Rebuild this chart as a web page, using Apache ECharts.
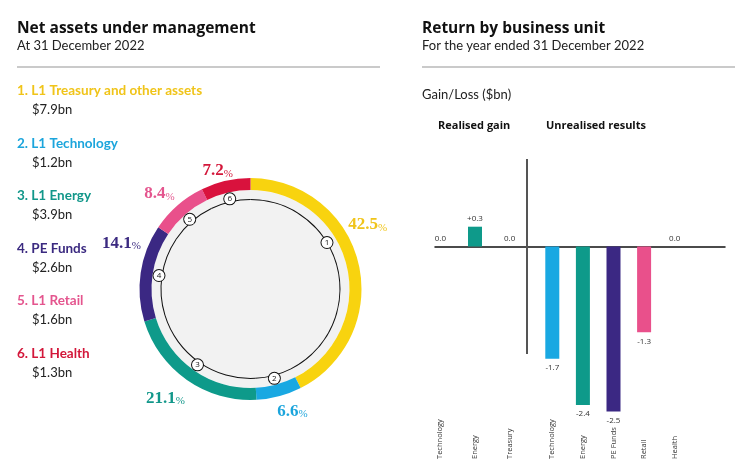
<!DOCTYPE html>
<html><head><meta charset="utf-8">
<script src="https://cdn.jsdelivr.net/npm/echarts@6/dist/echarts.min.js"></script>
<style>html,body{margin:0;padding:0;background:#fff}#c{width:752px;height:473px}</style>
</head><body><div id="c"></div>
<script>
// ---- data ----
const units = ['L1 Treasury and other assets','L1 Technology','L1 Energy','PE Funds','L1 Retail','L1 Health'];
const netAssetsBn = [7.9, 1.2, 3.9, 2.6, 1.6, 1.3];
const sharePct = [42.5, 6.6, 21.1, 14.1, 8.4, 7.2];
const realisedCats = ['Technology','Energy','Treasury'];
const realisedVals = [0.0, 0.3, 0.0];
const unrealisedCats = ['Technology','Energy','PE Funds','Retail','Health'];
const unrealisedVals = [-1.7, -2.4, -2.5, -1.3, 0.0];

// ---- styles ----
const ringColors = ['#f8d30f','#19a8e2','#0e9a8a','#3b2883','#e9508b','#d9123d'];
const textColors = ['#f0c419','#1ca5dc','#12978a','#3b2a80','#e4558e','#d3173a'];
const realisedColors = ['#27378a','#0e9a8a','#f8d30f'];
const unrealisedColors = ['#19a8e2','#0e9a8a','#3b2883','#e9508b','#d9123d'];
const pctOffsets = [[-22,-37],[-5,2],[5,7],[12,-29],[5,-4],[10,0]];
const markerOffsets = [[-13.5,-25],[0,0],[0,0],[0,0],[0,0],[0,0]];
const C = [250.5, 289];

const fmt = v => (v > 0 ? '+' : '') + v.toFixed(1);
const barData = (vals, cols) => vals.map((v, i) => ({
  value: v, itemStyle: { color: cols[i] },
  label: { position: v < 0 ? 'bottom' : 'top', distance: v < 0 ? 5 : 4 }
}));

const chart = echarts.init(document.getElementById('c'), null, { renderer: 'canvas' });
const axisLbl = { rotate: 90, align: 'left', verticalAlign: 'middle', margin: 14.5, fontSize: 7.5, color: '#333', fontFamily: 'Open Sans', interval: 0 };
const option = {
  animation: false,
  backgroundColor: '#fff',
  title: [
    { text: 'Net assets under management', subtext: 'At 31 December 2022', left: 17, top: 21, padding: 0, itemGap: 2,
      textStyle: { fontFamily: 'Open Sans', fontWeight: 'bold', fontSize: 15.5, color: '#111' },
      subtextStyle: { fontFamily: 'Lato', fontSize: 13, color: '#222' } },
    { text: 'Return by business unit', subtext: 'For the year ended 31 December 2022', left: 422, top: 21, padding: 0, itemGap: 2,
      textStyle: { fontFamily: 'Open Sans', fontWeight: 'bold', fontSize: 15.5, color: '#111' },
      subtextStyle: { fontFamily: 'Lato', fontSize: 13, color: '#222' } },
    { text: 'Gain/Loss ($bn)', left: 422, top: 88, padding: 0,
      textStyle: { fontFamily: 'Lato', fontWeight: 'normal', fontSize: 13, color: '#222' } },
    { text: 'Realised gain', left: 438, top: 120, padding: 0,
      textStyle: { fontFamily: 'Open Sans', fontWeight: 'bold', fontSize: 11, color: '#111' } },
    { text: 'Unrealised results', left: 546, top: 120, padding: 0,
      textStyle: { fontFamily: 'Open Sans', fontWeight: 'bold', fontSize: 11, color: '#111' } }
  ],
  legend: {
    orient: 'vertical', left: 12, top: 84, padding: 0, itemGap: 20,
    itemWidth: 0, itemHeight: 0, icon: 'rect', selectedMode: false,
    data: units.map((n, i) => ({ name: n, textStyle: { color: textColors[i] } })),
    formatter: name => {
      const i = units.indexOf(name);
      return '{t|' + (i + 1) + '. ' + name + '}\n{v|$' + netAssetsBn[i].toFixed(1) + 'bn}';
    },
    textStyle: {
      rich: {
        t: { fontFamily: 'Lato', fontWeight: 'bold', fontSize: 13.5, lineHeight: 19 },
        v: { fontFamily: 'Lato', fontSize: 13, lineHeight: 19, color: '#222', padding: [0, 0, 0, 15] }
      }
    }
  },
  grid: [
    { left: 423, width: 104, top: 147.5, height: 297, outerBoundsMode: 'none' },
    { left: 537, width: 153, top: 147.5, height: 297, outerBoundsMode: 'none' },
    { left: 435, width: 290, top: 100, height: 146.5, outerBoundsMode: 'none' }
  ],
  xAxis: [
    { gridIndex: 0, type: 'category', data: realisedCats, axisLine: { show: false, onZero: false }, axisTick: { show: false }, axisLabel: axisLbl },
    { gridIndex: 1, type: 'category', data: unrealisedCats, axisLine: { show: false, onZero: false }, axisTick: { show: false }, axisLabel: axisLbl },
    { gridIndex: 2, type: 'value', min: 0, max: 1, axisLine: { show: true, onZero: false, lineStyle: { color: '#111', width: 1.5 } },
      axisTick: { show: false }, axisLabel: { show: false }, splitLine: { show: false } }
  ],
  yAxis: [
    { gridIndex: 0, type: 'value', min: -3, max: 1.5, show: false, splitLine: { show: false } },
    { gridIndex: 1, type: 'value', min: -3, max: 1.5, show: false, splitLine: { show: false } },
    { gridIndex: 2, type: 'value', min: 0, max: 1, show: false, splitLine: { show: false } }
  ],
  graphic: [
    { type: 'line', shape: { x1: 17, y1: 67, x2: 380, y2: 67 }, style: { stroke: '#b8b8b8', lineWidth: 1.5 } },
    { type: 'line', shape: { x1: 422, y1: 67, x2: 735, y2: 67 }, style: { stroke: '#b8b8b8', lineWidth: 1.5 } },
    { type: 'line', shape: { x1: 527, y1: 159, x2: 527, y2: 354 }, style: { stroke: '#555', lineWidth: 2 }, z: 10 }
  ],
  series: [
    { type: 'pie', silent: true, center: C, radius: [0, 99], data: [{ value: 1, name: '' }],
      itemStyle: { color: '#f2f2f2' }, label: { show: false }, labelLine: { show: false }, emphasis: { disabled: true } },
    { type: 'pie', silent: true, center: C, radius: [99, 111], startAngle: 90, clockwise: true, avoidLabelOverlap: false,
      emphasis: { disabled: true },
      data: units.map((n, i) => ({ name: n, value: sharePct[i], itemStyle: { color: ringColors[i] }, label: { color: textColors[i] } })),
      label: { show: true, position: 'outside', formatter: '{n|{c}}{p|%}', distanceToLabelLine: 0,
        rich: { n: { fontFamily: 'Liberation Serif', fontWeight: 'bold', fontSize: 17, lineHeight: 20, verticalAlign: 'bottom' },
                p: { fontFamily: 'Liberation Serif', fontSize: 11, lineHeight: 19, verticalAlign: 'bottom' } } },
      labelLine: { show: false, length: 12, length2: 0 },
      labelLayout: p => ({ dx: pctOffsets[p.dataIndex][0], dy: pctOffsets[p.dataIndex][1] }) },
    { type: 'pie', silent: true, center: C, radius: [89, 90], startAngle: 90, clockwise: true, avoidLabelOverlap: false,
      emphasis: { disabled: true },
      data: units.map((n, i) => ({ name: n, value: sharePct[i] })),
      itemStyle: { color: '#111' },
      label: { show: true, position: 'inside', formatter: p => String(p.dataIndex + 1), color: '#111', fontSize: 8,
        fontFamily: 'Open Sans', backgroundColor: '#fff', borderColor: '#111', borderWidth: 1, borderRadius: 6,
        width: 11, height: 11, lineHeight: 11, align: 'center', padding: 0 },
      labelLine: { show: false },
      labelLayout: p => ({ dx: markerOffsets[p.dataIndex][0], dy: markerOffsets[p.dataIndex][1] }) },
    { type: 'bar', xAxisIndex: 0, yAxisIndex: 0, barWidth: 14, data: barData(realisedVals, realisedColors),
      label: { show: true, formatter: p => fmt(p.value), fontSize: 8, color: '#333', fontFamily: 'Open Sans' } },
    { type: 'bar', xAxisIndex: 1, yAxisIndex: 1, barWidth: 14, data: barData(unrealisedVals, unrealisedColors),
      label: { show: true, formatter: p => fmt(p.value), fontSize: 8, color: '#333', fontFamily: 'Open Sans' } }
  ]
};
chart.setOption(option);
</script>
</body></html>
